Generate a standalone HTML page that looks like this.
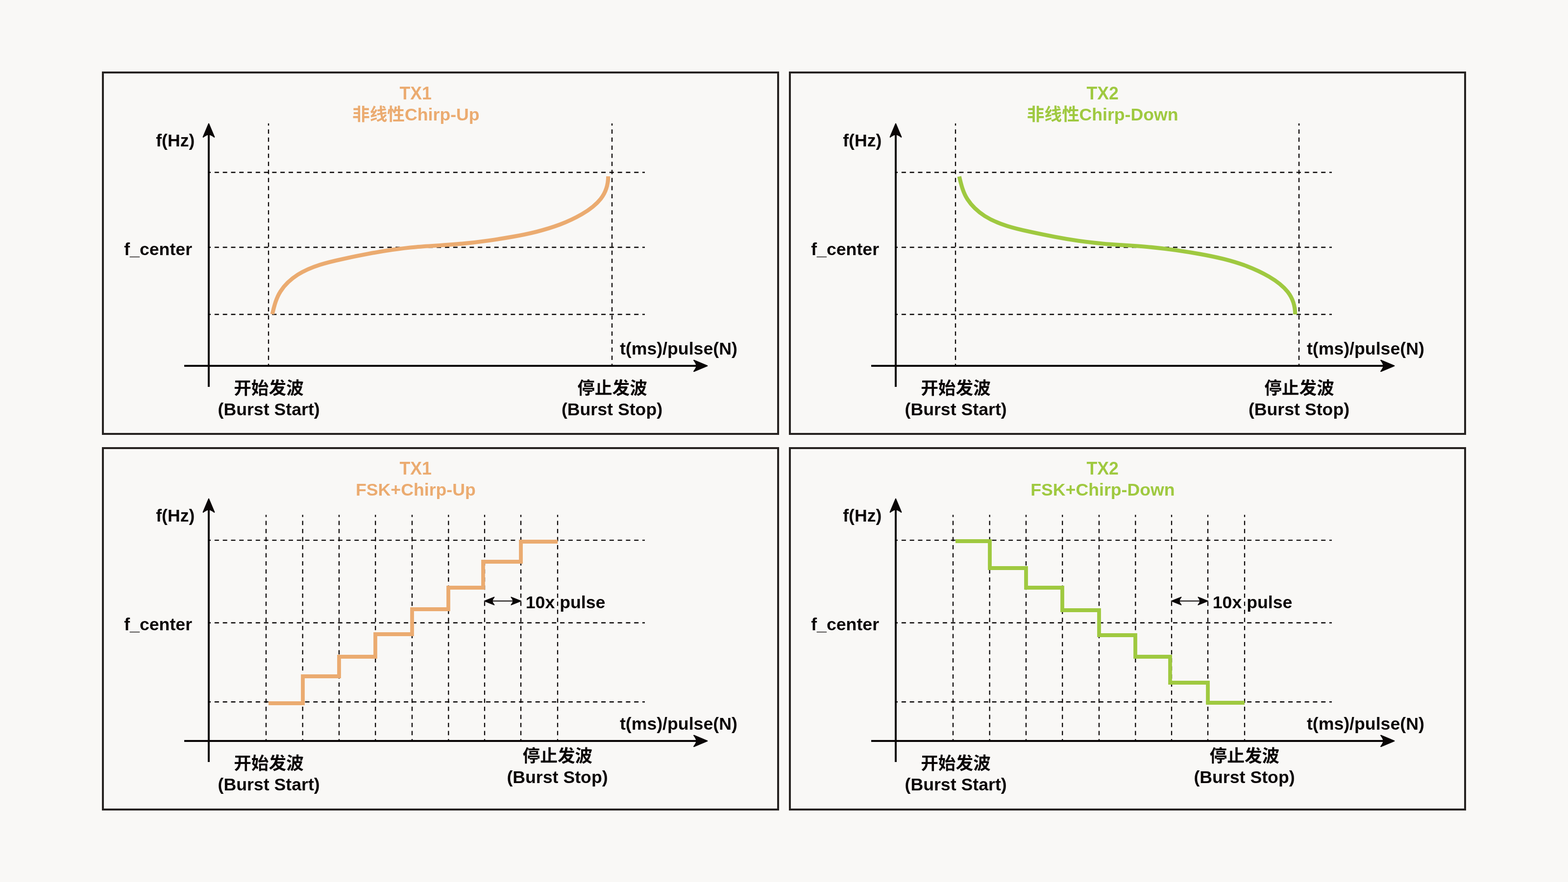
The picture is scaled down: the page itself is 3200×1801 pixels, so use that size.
<!DOCTYPE html>
<html lang="zh"><head><meta charset="utf-8"><title>TX1 / TX2 Chirp &amp; FSK waveforms</title>
<style>html,body{margin:0;padding:0;background:#f9f8f6}svg{display:block;will-change:transform}text{font-family:"Liberation Sans","Noto Sans CJK SC",sans-serif;font-weight:700;font-size:35.7px;fill:#0a0606}.dash{stroke:#0a0606;stroke-width:2.3;fill:none}.hd{stroke-width:2.4}.ax{stroke:#0a0606;stroke-width:4;fill:none}</style></head><body>
<svg width="3200" height="1801" viewBox="0 0 3200 1801" role="img" aria-label="TX1 / TX2 frequency-vs-time waveforms">
<defs>
<path id="ah" d="M-0.7,-0.3 L0.7,-0.3 L12.5,27.7 L11.4,29.3 Q5,24.3 0,23.2 Q-5,24.3 -11.4,29.3 L-12.5,27.7 Z"/>
</defs>
<rect width="3200" height="1801" fill="#f9f8f6"/>
<g id="panel1">
<rect x="210" y="148" width="1378" height="738" fill="none" stroke="#262220" stroke-width="4"/>
<g transform="translate(0,0)">
<path class="dash hd" stroke-dasharray="9 7.79" stroke-dashoffset="4.9" d="M426,352H1316"/><path class="dash hd" stroke-dasharray="9 7.79" stroke-dashoffset="4.9" d="M426,505H1316"/><path class="dash hd" stroke-dasharray="9 7.79" stroke-dashoffset="4.9" d="M426,642H1316"/><path class="dash" stroke-dasharray="8.8 7.7" stroke-dashoffset="4.2" d="M548,252V745"/><path class="dash" stroke-dasharray="8.8 7.7" stroke-dashoffset="4.2" d="M1249,252V745"/>
<path d="M555.7,641.6 C559.5,625.1 563.5,608.7 572.5,594.9 C581.4,581.1 593.7,569.8 607.7,560.9 C621.7,552.1 637.3,545.6 653.1,540.6 C668.9,535.5 685.1,531.9 701.4,528.4 C717.6,524.9 733.8,521.5 750.1,518.5 C766.4,515.4 782.8,512.6 799.1,510.2 C815.5,507.9 832.0,505.9 848.5,504.5 C865.0,503.0 881.5,502.0 898.1,501.0 C914.7,499.9 931.2,498.8 947.8,497.2 C964.3,495.6 980.7,493.6 997.1,491.3 C1013.6,488.9 1029.9,486.3 1046.3,483.4 C1062.6,480.5 1078.8,477.2 1094.9,473.2 C1110.9,469.2 1126.7,464.5 1142.2,458.7 C1157.7,452.8 1172.9,445.8 1187.6,437.3 C1202.2,428.8 1216.0,418.7 1226.0,406.0 C1235.9,393.3 1241.2,378.1 1241.2,360.0" fill="none" stroke="#ebab70" stroke-width="8.2"/>
<g transform="translate(815.50,203.0) scale(0.962,1)"><text style="font-size:37.1px;fill:#ebab70" x="0" y="0">TX1</text></g>
<text x="719.0" y="246.0" style="font-size:35.7px;fill:#ebab70" text-anchor="start">非线性</text>
<text x="826.0" y="245.8" style="fill:#ebab70">Chirp-Up</text>
</g>
<g transform="translate(0,0)"><path class="ax" d="M426,270V790"/><use href="#ah" transform="translate(426,252)" fill="#0a0606"/><path class="ax" d="M376,747H1426"/><use href="#ah" transform="translate(1444,747) rotate(90)" fill="#0a0606"/><text x="318.2" y="298.6">f(Hz)</text><text x="253.2" y="520.6">f_center</text><text x="1264.9" y="723.7">t(ms)/pulse(N)</text><text x="548.6" y="847.9" text-anchor="middle">(Burst Start)</text><text x="548.5" y="805.0" style="font-size:35.7px" text-anchor="middle">开始发波</text><text x="1249.0" y="847.9" text-anchor="middle">(Burst Stop)</text><text x="1249.5" y="805.0" style="font-size:35.7px" text-anchor="middle">停止发波</text></g>
</g>
<g id="panel2">
<rect x="1612" y="148" width="1378" height="738" fill="none" stroke="#262220" stroke-width="4"/>
<g transform="translate(1402,0)">
<path class="dash hd" stroke-dasharray="9 7.79" stroke-dashoffset="4.9" d="M426,352H1316"/><path class="dash hd" stroke-dasharray="9 7.79" stroke-dashoffset="4.9" d="M426,505H1316"/><path class="dash hd" stroke-dasharray="9 7.79" stroke-dashoffset="4.9" d="M426,642H1316"/><path class="dash" stroke-dasharray="8.8 7.7" stroke-dashoffset="4.2" d="M548,252V745"/><path class="dash" stroke-dasharray="8.8 7.7" stroke-dashoffset="4.2" d="M1249,252V745"/>
<path d="M555.7,641.6 C559.5,625.1 563.5,608.7 572.5,594.9 C581.4,581.1 593.7,569.8 607.7,560.9 C621.7,552.1 637.3,545.6 653.1,540.6 C668.9,535.5 685.1,531.9 701.4,528.4 C717.6,524.9 733.8,521.5 750.1,518.5 C766.4,515.4 782.8,512.6 799.1,510.2 C815.5,507.9 832.0,505.9 848.5,504.5 C865.0,503.0 881.5,502.0 898.1,501.0 C914.7,499.9 931.2,498.8 947.8,497.2 C964.3,495.6 980.7,493.6 997.1,491.3 C1013.6,488.9 1029.9,486.3 1046.3,483.4 C1062.6,480.5 1078.8,477.2 1094.9,473.2 C1110.9,469.2 1126.7,464.5 1142.2,458.7 C1157.7,452.8 1172.9,445.8 1187.6,437.3 C1202.2,428.8 1216.0,418.7 1226.0,406.0 C1235.9,393.3 1241.2,378.1 1241.2,360.0" fill="none" stroke="#9fc940" stroke-width="8.2" transform="translate(0,1002) scale(1,-1)"/>
<g transform="translate(815.50,203.0) scale(0.962,1)"><text style="font-size:37.1px;fill:#9fc940" x="0" y="0">TX2</text></g>
<text x="693.8" y="246.0" style="font-size:35.7px;fill:#9fc940" text-anchor="start">非线性</text>
<text x="800.4" y="245.8" style="fill:#9fc940">Chirp-Down</text>
</g>
<g transform="translate(1402,0)"><path class="ax" d="M426,270V790"/><use href="#ah" transform="translate(426,252)" fill="#0a0606"/><path class="ax" d="M376,747H1426"/><use href="#ah" transform="translate(1444,747) rotate(90)" fill="#0a0606"/><text x="318.2" y="298.6">f(Hz)</text><text x="253.2" y="520.6">f_center</text><text x="1264.9" y="723.7">t(ms)/pulse(N)</text><text x="548.6" y="847.9" text-anchor="middle">(Burst Start)</text><text x="548.5" y="805.0" style="font-size:35.7px" text-anchor="middle">开始发波</text><text x="1249.0" y="847.9" text-anchor="middle">(Burst Stop)</text><text x="1249.5" y="805.0" style="font-size:35.7px" text-anchor="middle">停止发波</text></g>
</g>
<g id="panel3">
<rect x="210" y="915" width="1378" height="738" fill="none" stroke="#262220" stroke-width="4"/>
<g transform="translate(0,766)">
<path class="dash hd" stroke-dasharray="9 7.79" stroke-dashoffset="4.9" d="M426,337.1H1316"/><path class="dash hd" stroke-dasharray="9 7.79" stroke-dashoffset="4.9" d="M426,505.7H1316"/><path class="dash hd" stroke-dasharray="9 7.79" stroke-dashoffset="4.9" d="M426,667.2H1316"/><path class="dash" stroke-dasharray="8.8 7.7" stroke-dashoffset="4.2" d="M543,285.2V745"/><path class="dash" stroke-dasharray="8.8 7.7" stroke-dashoffset="4.2" d="M617.7,285.2V745"/><path class="dash" stroke-dasharray="8.8 7.7" stroke-dashoffset="4.2" d="M692,285.2V745"/><path class="dash" stroke-dasharray="8.8 7.7" stroke-dashoffset="4.2" d="M766.2,285.2V745"/><path class="dash" stroke-dasharray="8.8 7.7" stroke-dashoffset="4.2" d="M841,285.2V745"/><path class="dash" stroke-dasharray="8.8 7.7" stroke-dashoffset="4.2" d="M915.3,285.2V745"/><path class="dash" stroke-dasharray="8.8 7.7" stroke-dashoffset="4.2" d="M989,285.2V745"/><path class="dash" stroke-dasharray="8.8 7.7" stroke-dashoffset="4.2" d="M1063,285.2V745"/><path class="dash" stroke-dasharray="8.8 7.7" stroke-dashoffset="4.2" d="M1138,285.2V745"/>
<path d="M548,670 H618 V615 H692 V575 H766 V529 H841 V478 H915 V434 H986 V381 H1063 V340 H1138" fill="none" stroke="#ebab70" stroke-width="7.8" stroke-linejoin="miter"/>
<g transform="translate(815.50,203.0) scale(0.962,1)"><text style="font-size:37.1px;fill:#ebab70" x="0" y="0">TX1</text></g>
<text x="848.4" y="245.8" style="font-size:35.7px;fill:#ebab70" text-anchor="middle">FSK+Chirp-Up</text>
<text x="1072.78" y="475.70">10x pulse</text><path d="M1000,461.2 H1052" stroke="#0a0606" stroke-width="2.1" fill="none"/><use href="#ah" fill="#0a0606" transform="translate(987.9,461.2) rotate(-90) scale(0.70,0.745)"/><use href="#ah" fill="#0a0606" transform="translate(1063.9,461.2) rotate(90) scale(0.70,0.745)"/>
</g>
<g transform="translate(0,766)"><path class="ax" d="M426,270V790"/><use href="#ah" transform="translate(426,252)" fill="#0a0606"/><path class="ax" d="M376,747H1426"/><use href="#ah" transform="translate(1444,747) rotate(90)" fill="#0a0606"/><text x="318.2" y="298.6">f(Hz)</text><text x="253.2" y="520.6">f_center</text><text x="1264.9" y="723.7">t(ms)/pulse(N)</text><text x="548.6" y="847.9" text-anchor="middle">(Burst Start)</text><text x="548.5" y="805.0" style="font-size:35.7px" text-anchor="middle">开始发波</text><text x="1137.5" y="832.7" text-anchor="middle">(Burst Stop)</text><text x="1137.9" y="789.8" style="font-size:35.7px" text-anchor="middle">停止发波</text></g>
</g>
<g id="panel4">
<rect x="1612" y="915" width="1378" height="738" fill="none" stroke="#262220" stroke-width="4"/>
<g transform="translate(1402,766)">
<path class="dash hd" stroke-dasharray="9 7.79" stroke-dashoffset="4.9" d="M426,337.1H1316"/><path class="dash hd" stroke-dasharray="9 7.79" stroke-dashoffset="4.9" d="M426,505.7H1316"/><path class="dash hd" stroke-dasharray="9 7.79" stroke-dashoffset="4.9" d="M426,667.2H1316"/><path class="dash" stroke-dasharray="8.8 7.7" stroke-dashoffset="4.2" d="M543,285.2V745"/><path class="dash" stroke-dasharray="8.8 7.7" stroke-dashoffset="4.2" d="M617.7,285.2V745"/><path class="dash" stroke-dasharray="8.8 7.7" stroke-dashoffset="4.2" d="M692,285.2V745"/><path class="dash" stroke-dasharray="8.8 7.7" stroke-dashoffset="4.2" d="M766.2,285.2V745"/><path class="dash" stroke-dasharray="8.8 7.7" stroke-dashoffset="4.2" d="M841,285.2V745"/><path class="dash" stroke-dasharray="8.8 7.7" stroke-dashoffset="4.2" d="M915.3,285.2V745"/><path class="dash" stroke-dasharray="8.8 7.7" stroke-dashoffset="4.2" d="M989,285.2V745"/><path class="dash" stroke-dasharray="8.8 7.7" stroke-dashoffset="4.2" d="M1063,285.2V745"/><path class="dash" stroke-dasharray="8.8 7.7" stroke-dashoffset="4.2" d="M1138,285.2V745"/>
<path d="M548,670 H618 V615 H692 V575 H766 V529 H841 V478 H915 V434 H986 V381 H1063 V340 H1138" fill="none" stroke="#9fc940" stroke-width="7.8" stroke-linejoin="miter" transform="translate(0,1009) scale(1,-1)"/>
<g transform="translate(815.50,203.0) scale(0.962,1)"><text style="font-size:37.1px;fill:#9fc940" x="0" y="0">TX2</text></g>
<text x="848.4" y="245.8" style="font-size:35.7px;fill:#9fc940" text-anchor="middle">FSK+Chirp-Down</text>
<text x="1072.78" y="475.70">10x pulse</text><path d="M1000,461.2 H1052" stroke="#0a0606" stroke-width="2.1" fill="none"/><use href="#ah" fill="#0a0606" transform="translate(987.9,461.2) rotate(-90) scale(0.70,0.745)"/><use href="#ah" fill="#0a0606" transform="translate(1063.9,461.2) rotate(90) scale(0.70,0.745)"/>
</g>
<g transform="translate(1402,766)"><path class="ax" d="M426,270V790"/><use href="#ah" transform="translate(426,252)" fill="#0a0606"/><path class="ax" d="M376,747H1426"/><use href="#ah" transform="translate(1444,747) rotate(90)" fill="#0a0606"/><text x="318.2" y="298.6">f(Hz)</text><text x="253.2" y="520.6">f_center</text><text x="1264.9" y="723.7">t(ms)/pulse(N)</text><text x="548.6" y="847.9" text-anchor="middle">(Burst Start)</text><text x="548.5" y="805.0" style="font-size:35.7px" text-anchor="middle">开始发波</text><text x="1137.5" y="832.7" text-anchor="middle">(Burst Stop)</text><text x="1137.9" y="789.8" style="font-size:35.7px" text-anchor="middle">停止发波</text></g>
</g>
</svg></body></html>
